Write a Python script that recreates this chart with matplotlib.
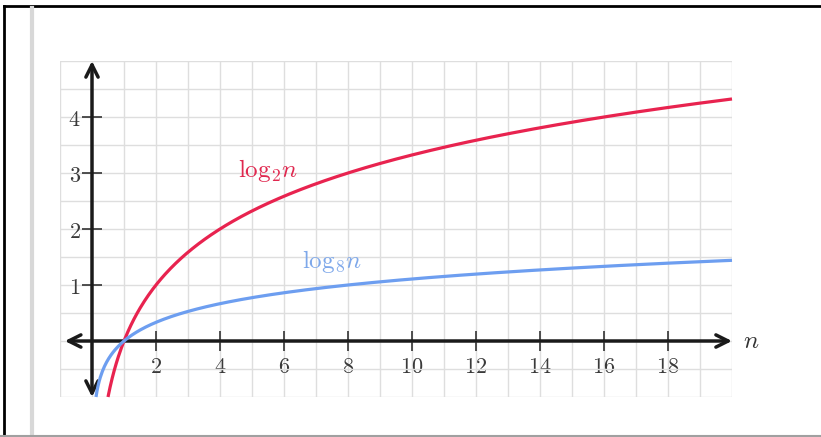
import numpy as np
import matplotlib
matplotlib.use('Agg')
import matplotlib.pyplot as plt
from matplotlib.lines import Line2D
from matplotlib.ticker import MultipleLocator

plt.rcParams['mathtext.fontset'] = 'cm'
plt.rcParams['font.family'] = 'DejaVu Serif'

# curves: y = log_b(n)
bases = [2, 8]
colors = ['#e8234f', '#6d9ef0']
label_colors = ['#e0284f', '#7ea8ea']
labels = [r'$\mathrm{log}_2 n$', r'$\mathrm{log}_8 n$']
label_pos = [(5.5, 3.05), (7.5, 1.42)]

x_ticks = [2, 4, 6, 8, 10, 12, 14, 16, 18]
y_ticks = [1, 2, 3, 4]

fig = plt.figure(figsize=(8.21, 4.37), dpi=100)
ax = fig.add_axes([60 / 821, 40 / 437, 672 / 821, 336 / 437])
ax.set_xlim(-1, 20)
ax.set_ylim(-1, 5)

# grid
ax.xaxis.set_minor_locator(MultipleLocator(1))
ax.yaxis.set_minor_locator(MultipleLocator(0.5))
ax.grid(which='both', color='#dedede', lw=1.0, zorder=0)
ax.tick_params(which='minor', length=0)

# axes through the origin
for s in ['top', 'right']:
    ax.spines[s].set_visible(False)
ax.spines['left'].set_position(('data', 0))
ax.spines['bottom'].set_position(('data', 0))
ax.spines['left'].set_color('none')
ax.spines['bottom'].set_color('none')
ax.set_xticks(x_ticks)
ax.set_xticklabels([f'${t}$' for t in x_ticks])
ax.set_yticks(y_ticks)
ax.set_yticklabels([f'${t}$' for t in y_ticks])
ax.tick_params(which='major', direction='inout', length=14, width=1.2,
               color='#333333', labelcolor='#3a3a3a', labelsize=16)
ax.tick_params(axis='x', pad=4)
ax.tick_params(axis='y', pad=1)

arrow = dict(arrowstyle='<->', lw=2.5, color='#1a1a1a',
             mutation_scale=22, shrinkA=0, shrinkB=0)
ax.annotate('', xy=(20, 0), xytext=(-0.85, 0), arrowprops=arrow, zorder=3)
ax.annotate('', xy=(0, 5), xytext=(0, -1), arrowprops=arrow, zorder=3)
ax.text(20.35, 0, r'$n$', fontsize=18, va='center', ha='left', color='#333333')

for b, c, lab, lc, pos in zip(bases, colors, labels, label_colors, label_pos):
    n = np.linspace(1 / b, 20, 600)
    ax.plot(n, np.log(n) / np.log(b), color=c, lw=2.3, zorder=4,
            solid_capstyle='butt', clip_on=False)
    ax.text(pos[0], pos[1], lab, color=lc, fontsize=18, ha='center', va='center')

# frame around the picture
fig.add_artist(Line2D([4 / 821, 1], [1 - 6 / 437, 1 - 6 / 437], color='black', lw=2))
fig.add_artist(Line2D([4 / 821, 4 / 821], [0, 1 - 6 / 437], color='black', lw=2))
fig.add_artist(Line2D([32 / 821, 32 / 821], [0, 1 - 8 / 437], color='#d8d8d8', lw=3))
fig.add_artist(Line2D([0, 1], [1 / 437, 1 / 437], color='#a0a0a0', lw=1.5))

fig.savefig('out.png', dpi=100)
